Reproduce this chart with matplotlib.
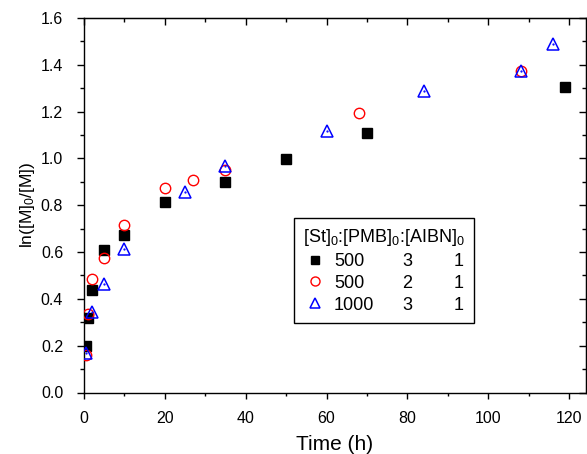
import matplotlib
matplotlib.use("Agg")
import matplotlib.pyplot as plt
from matplotlib.ticker import MultipleLocator
from matplotlib.lines import Line2D

plt.rcParams['font.family'] = ['Liberation Sans', 'DejaVu Sans']
plt.rcParams['mathtext.fontset'] = 'custom'
plt.rcParams['mathtext.rm'] = 'Liberation Sans'
plt.rcParams['mathtext.it'] = 'Liberation Sans'

# data
t_a = [0.5, 1, 2, 5, 10, 20, 35, 50, 70, 119]
y_a = [0.20, 0.32, 0.44, 0.607, 0.671, 0.816, 0.90, 0.999, 1.11, 1.307]

t_b = [0.5, 1, 2, 5, 10, 20, 27, 35, 68, 108]
y_b = [0.16, 0.335, 0.486, 0.574, 0.717, 0.875, 0.908, 0.951, 1.192, 1.373]

t_c = [0.5, 2, 5, 10, 25, 35, 60, 84, 108, 116]
y_c = [0.169, 0.346, 0.464, 0.613, 0.857, 0.966, 1.119, 1.287, 1.373, 1.488]

labels_st = ["500", "500", "1000"]
labels_pmb = ["3", "2", "3"]
labels_aibn = ["1", "1", "1"]

fig = plt.figure(figsize=(5.87, 4.54), dpi=100)
ax = fig.add_axes([84/587, 1-392.5/454, (586-84)/587, (392.5-18)/454])

ax.plot(t_a, y_a, ls='none', marker='s', ms=7, mfc='black', mec='black', mew=1, zorder=3)
ax.plot(t_b, y_b, ls='none', marker='o', ms=7.5, mfc='none', mec='red', mew=1, zorder=3)
ax.plot(t_c, y_c, ls='none', marker='^', ms=8.5, mfc='none', mec='blue', mew=1.1, zorder=4)
ax.plot(t_c, y_c, ls='none', marker='.', ms=1.2, color='blue', zorder=4)

ax.set_xlim(0, 124.2)
ax.set_ylim(0, 1.6)
ax.xaxis.set_major_locator(MultipleLocator(20))
ax.xaxis.set_minor_locator(MultipleLocator(10))
ax.yaxis.set_major_locator(MultipleLocator(0.2))
ax.yaxis.set_minor_locator(MultipleLocator(0.1))
ax.yaxis.set_major_formatter(plt.FuncFormatter(lambda v, p: f"{v:.1f}"))
ax.tick_params(axis='x', which='major', direction='out', length=4, width=1, labelsize=11.5, pad=9)
ax.tick_params(axis='x', which='minor', direction='out', length=2.5, width=1)
ax.tick_params(axis='y', which='major', direction='out', length=5, width=1, labelsize=11.5, pad=10)
ax.tick_params(axis='y', which='minor', direction='out', length=3, width=1)
for s in ax.spines.values():
    s.set_linewidth(1)

sx = ax.secondary_xaxis('top')
sx.xaxis.set_major_locator(MultipleLocator(20))
sx.xaxis.set_minor_locator(MultipleLocator(10))
sx.tick_params(which='major', direction='in', length=5, width=1, labeltop=False)
sx.tick_params(which='minor', direction='in', length=3, width=1)
sy = ax.secondary_yaxis('right')
sy.yaxis.set_major_locator(MultipleLocator(0.2))
sy.yaxis.set_minor_locator(MultipleLocator(0.1))
sy.tick_params(which='major', direction='in', length=5, width=1, labelright=False)
sy.tick_params(which='minor', direction='in', length=3, width=1)

ax.set_xlabel("Time (h)", fontsize=15, labelpad=7)
ax.set_ylabel("ln([M]$_0$/[M])", fontsize=12.5, labelpad=3)

h1 = Line2D([], [], ls='none', marker='s', ms=6, mfc='black', mec='black')
h2 = Line2D([], [], ls='none', marker='o', ms=6.5, mfc='none', mec='red')
h3 = Line2D([], [], ls='none', marker='^', ms=7, mfc='none', mec='blue', mew=1.1)
blank = Line2D([], [], ls='none')
handles = [h1, h2, h3, blank, blank, blank, blank, blank, blank]
labels = labels_st + labels_pmb + ["   " + s for s in labels_aibn]
leg = ax.legend(handles, labels, ncol=3, title="[St]$_0$:[PMB]$_0$:[AIBN]$_0$",
                title_fontsize=13, fontsize=13, loc='upper left',
                bbox_to_anchor=((294-84)/502, (392.5-218)/374.5),
                borderaxespad=0,
                frameon=True, fancybox=False, edgecolor='black', framealpha=1,
                handlelength=1.3, handletextpad=0.42, columnspacing=-0.2,
                labelspacing=0.27, borderpad=0.5, alignment='left')
leg.get_frame().set_linewidth(1)

fig.savefig("out.png", dpi=100)
